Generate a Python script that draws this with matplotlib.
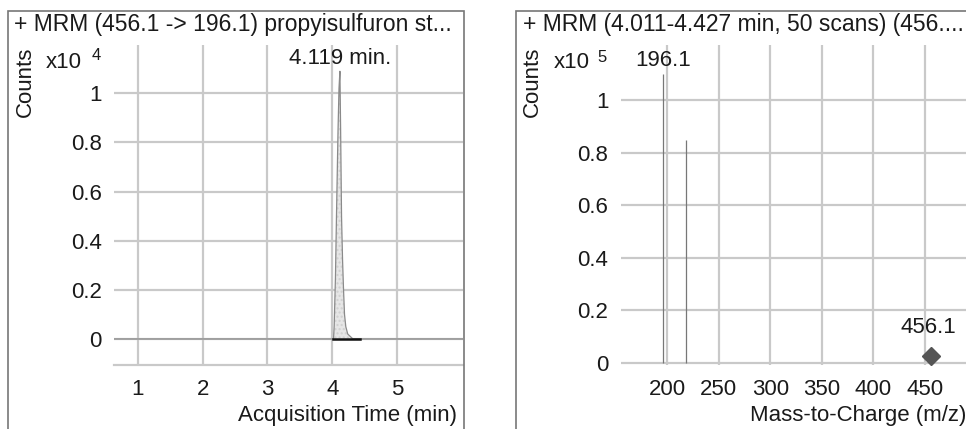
import matplotlib
matplotlib.use("Agg")
import matplotlib.pyplot as plt
from matplotlib.patches import Rectangle

plt.rcParams['font.family'] = ['Liberation Sans', 'DejaVu Sans']

# Chromatogram (counts x10^4)
chrom_time = [0.6, 4.0, 4.02, 4.03, 4.05, 4.066, 4.09, 4.105, 4.119, 4.13, 4.144, 4.16,
              4.175, 4.19, 4.21, 4.24, 4.28, 4.32, 6.1]
chrom_counts = [0.0, 0.0, 0.0, 0.05, 0.25, 0.5, 0.85, 1.02, 1.09, 0.85, 0.5, 0.32,
                0.2, 0.1, 0.05, 0.02, 0.01, 0.0, 0.0]
peak_label = "4.119 min."
peak_rt = 4.119
integ_start, integ_end = 4.011, 4.427
chrom_xticks = [1, 2, 3, 4, 5]
chrom_yticks = [0, 0.2, 0.4, 0.6, 0.8, 1]

# Spectrum (counts x10^5)
mz = [196.1, 218.1]
mz_counts = [1.10, 0.848]
precursor_mz = 456.1
precursor_counts = 0.027
spec_xticks = [200, 250, 300, 350, 400, 450]
spec_yticks = [0, 0.2, 0.4, 0.6, 0.8, 1]

W, H = 966, 429
fig = plt.figure(figsize=(W / 100, H / 100), dpi=100)

grid_c = '#c9c9c9'
text_c = '#1a1a1a'
fs_tick = 16
fs_title = 16.5
fs_sup = 12


def fx(px):
    return px / W


def fy(py):
    return 1 - py / H


def style_axes(ax, xticks, yticks, bottom_line=True):
    for s in ax.spines.values():
        s.set_visible(False)
    ax.set_xticks(xticks)
    ax.set_yticks(yticks)
    ax.set_yticklabels([('%g' % v) for v in yticks])
    ax.tick_params(length=0, labelsize=fs_tick, labelcolor=text_c)
    ax.tick_params(axis='y', pad=9)
    ax.tick_params(axis='x', pad=10)
    ax.grid(True, color=grid_c, linewidth=1.6)
    ax.set_axisbelow(True)
    if bottom_line:
        ax.axhline(ax.get_ylim()[0], color=grid_c, linewidth=1.6, clip_on=False)


# ---- left panel: chromatogram ----
fig.patches.append(Rectangle((fx(8), fy(440)), fx(464) - fx(8), fy(11) - fy(440),
                             transform=fig.transFigure, fill=False, edgecolor='#777777',
                             linewidth=1.2))
ax1 = fig.add_axes([fx(114), fy(365), fx(463) - fx(114), fy(45) - fy(365)])
ax1.set_xlim(0.63, 6.02)
ax1.set_ylim(-0.106, 1.197)
style_axes(ax1, chrom_xticks, chrom_yticks)
ax1.fill_between(chrom_time, chrom_counts, 0, color='#e6e6e6', hatch='....',
                 edgecolor='#d0d0d0', linewidth=0)
ax1.plot(chrom_time, chrom_counts, color='#8a8a8a', linewidth=0.9)
ax1.plot([integ_start, integ_end], [0, 0], color='#111111', linewidth=1.8)
ax1.text(peak_rt, 1.144, peak_label, ha='center', va='center', fontsize=fs_tick, color=text_c)

fig.text(fx(14), fy(25), "+ MRM (456.1 -> 196.1) propyisulfuron st...", fontsize=fs_title,
         color=text_c, va='center', ha='left')
fig.text(fx(25), fy(82), "Counts", rotation=90, fontsize=fs_tick, color=text_c,
         va='center', ha='center')
fig.text(fx(46), fy(63), "x10", fontsize=fs_tick, color=text_c, va='center', ha='left')
fig.text(fx(96), fy(55), "4", fontsize=fs_sup, color=text_c, va='center', ha='center')
fig.text(fx(457), fy(415), "Acquisition Time (min)", fontsize=fs_tick, color=text_c,
         va='center', ha='right')

# ---- right panel: spectrum ----
fig.patches.append(Rectangle((fx(516), fy(440)), fx(1000) - fx(516), fy(11) - fy(440),
                             transform=fig.transFigure, fill=False, edgecolor='#777777',
                             linewidth=1.2))
ax2 = fig.add_axes([fx(621), fy(365), 1 - fx(621), fy(45) - fy(365)])
ax2.set_xlim(155.4, 489.7)
ax2.set_ylim(-0.008, 1.209)
style_axes(ax2, spec_xticks, spec_yticks, bottom_line=False)
ax2.vlines(mz, 0, mz_counts, color='#777777', linewidth=0.9)
ax2.plot([precursor_mz], [precursor_counts], marker='D', markersize=9, color='#555555',
         linestyle='none', clip_on=False)
ax2.text(mz[0], 1.15, "196.1", ha='center', va='center', fontsize=fs_tick, color=text_c)
ax2.text(precursor_mz - 3, 0.133, "456.1", ha='center', va='center', fontsize=fs_tick,
         color=text_c)

fig.text(fx(523), fy(25), "+ MRM (4.011-4.427 min, 50 scans) (456....", fontsize=fs_title,
         color=text_c, va='center', ha='left')
fig.text(fx(532), fy(82), "Counts", rotation=90, fontsize=fs_tick, color=text_c,
         va='center', ha='center')
fig.text(fx(554), fy(63), "x10", fontsize=fs_tick, color=text_c, va='center', ha='left')
fig.text(fx(602), fy(57), "5", fontsize=fs_sup, color=text_c, va='center', ha='center')
fig.text(fx(966), fy(415), "Mass-to-Charge (m/z)", fontsize=fs_tick, color=text_c,
         va='center', ha='right')

fig.savefig('out.png', dpi=100)
